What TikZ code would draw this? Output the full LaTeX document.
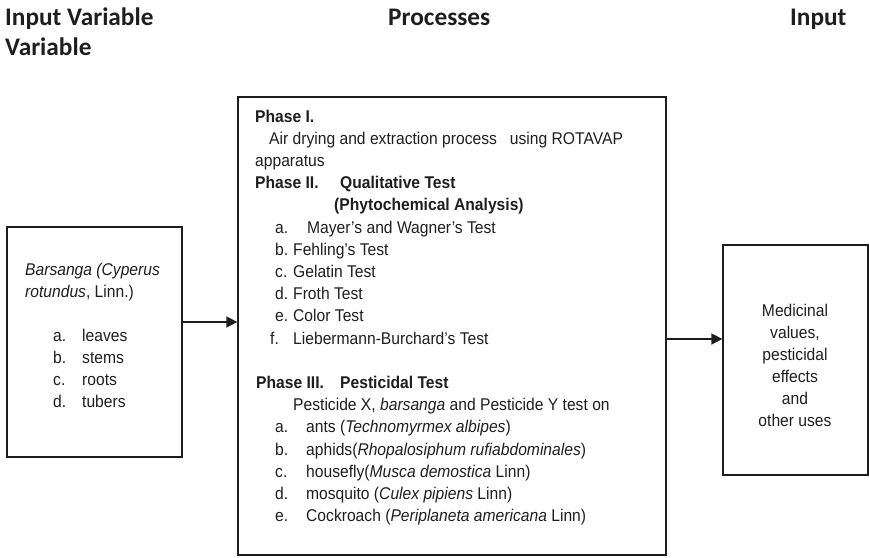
\documentclass[tikz,border=0pt]{standalone}
\usepackage{fontspec}
\usetikzlibrary{arrows.meta}
\newfontfamily\narrowf[FakeStretch=0.92]{Liberation Sans}
\newfontfamily\hdrf{Carlito}
\definecolor{ink}{HTML}{1E1E1E}
\begin{document}
\begin{tikzpicture}[x=1pt,y=-1pt,
  box/.style={draw=ink, line width=1.3pt, rectangle, inner sep=0pt},
  txt/.style={anchor=base west, inner sep=0pt, text=ink, font=\narrowf\fontsize{17}{20}\selectfont},
  btxt/.style={txt, font=\narrowf\bfseries\fontsize{17}{20}\selectfont},
  ctxt/.style={txt, anchor=base},
  hdr/.style={anchor=base west, inner sep=0pt, text=ink, font=\hdrf\bfseries\fontsize{25.3}{30}\selectfont},
  flow/.style={-{Triangle[length=11pt,width=11pt]}, line width=1.6pt, draw=ink}]
\useasboundingbox (0,0) rectangle (869,557);

% headers
\node[hdr] (h1) at (5,25) {Input Variable};
\node[hdr] (h2) at (5,55) {Variable};
\node[hdr] (h3) at (388,25) {Processes};
\node[hdr] (h4) at (790,25) {Input};

% boxes
\node[box, minimum width=175pt, minimum height=230pt] (inbox) at (94.5,342) {};
\node[box, minimum width=428pt, minimum height=458pt] (proc) at (452,326) {};
\node[box, minimum width=145pt, minimum height=230pt] (outbox) at (795.5,360) {};

% connectors
\draw[flow] (inbox.east |- 0,322) -- (proc.west |- 0,322);
\draw[flow] (proc.east |- 0,339) -- (outbox.west |- 0,339);

% left box text
\node[txt] (l1) at (25,275) {\itshape Barsanga (Cyperus};
\node[txt] (l2) at (25,297) {\textit{rotundus}, Linn.)};
\node[txt] (la) at (53,341) {a.};
\node[txt] (lat) at (82,341) {leaves};
\node[txt] (lb) at (53,363) {b.};
\node[txt] (lbt) at (82,363) {stems};
\node[txt] (lc) at (53,385) {c.};
\node[txt] (lct) at (82,385) {roots};
\node[txt] (ld) at (53,407) {d.};
\node[txt] (ldt) at (82,407) {tubers};

% middle box text
\node[btxt] (p1) at (255,122) {Phase I.};
\node[txt] (p2) at (269,144.2) {Air drying and extraction process\ \ \ using ROTAVAP};
\node[txt] (p3) at (255,166.4) {apparatus};
\node[btxt] (p4) at (255,188.6) {Phase II.};
\node[btxt] (p4b) at (340,188.6) {Qualitative Test};
\node[btxt] (p5) at (334,210.8) {(Phytochemical Analysis)};
\node[txt] (qa) at (275,233.0) {a.};
\node[txt] (qat) at (307,233.0) {Mayer’s and Wagner’s Test};
\node[txt] (qb) at (275,255.2) {b.};
\node[txt] (qbt) at (293,255.2) {Fehling’s Test};
\node[txt] (qc) at (275,277.4) {c.};
\node[txt] (qct) at (293,277.4) {Gelatin Test};
\node[txt] (qd) at (275,299.6) {d.};
\node[txt] (qdt) at (293,299.6) {Froth Test};
\node[txt] (qe) at (275,321.8) {e.};
\node[txt] (qet) at (293,321.8) {Color Test};
\node[txt] (qf) at (270,344.0) {f.};
\node[txt] (qft) at (293,344.0) {Liebermann-Burchard’s Test};
\node[btxt] (p6) at (256,388.4) {Phase III.};
\node[btxt] (p6b) at (340,388.4) {Pesticidal Test};
\node[txt] (p7) at (293,410.6) {Pesticide X, \textit{barsanga} and Pesticide Y test on};
\node[txt] (ta) at (275,432.8) {a.};
\node[txt] (tat) at (306,432.8) {ants (\textit{Technomyrmex albipes})};
\node[txt] (tb) at (275,455.0) {b.};
\node[txt] (tbt) at (306,455.0) {aphids(\textit{Rhopalosiphum rufiabdominales})};
\node[txt] (tc) at (275,477.2) {c.};
\node[txt] (tct) at (306,477.2) {housefly(\textit{Musca demostica} Linn)};
\node[txt] (td) at (275,499.4) {d.};
\node[txt] (tdt) at (306,499.4) {mosquito (\textit{Culex pipiens} Linn)};
\node[txt] (te) at (275,521.6) {e.};
\node[txt] (tet) at (306,521.6) {Cockroach (\textit{Periplaneta americana} Linn)};

% right box text
\node[ctxt] (r1) at (795,316) {Medicinal};
\node[ctxt] (r2) at (795,338) {values,};
\node[ctxt] (r3) at (795,360) {pesticidal};
\node[ctxt] (r4) at (795,382) {effects};
\node[ctxt] (r5) at (795,404) {and};
\node[ctxt] (r6) at (795,426) {other uses};
\end{tikzpicture}
\end{document}
